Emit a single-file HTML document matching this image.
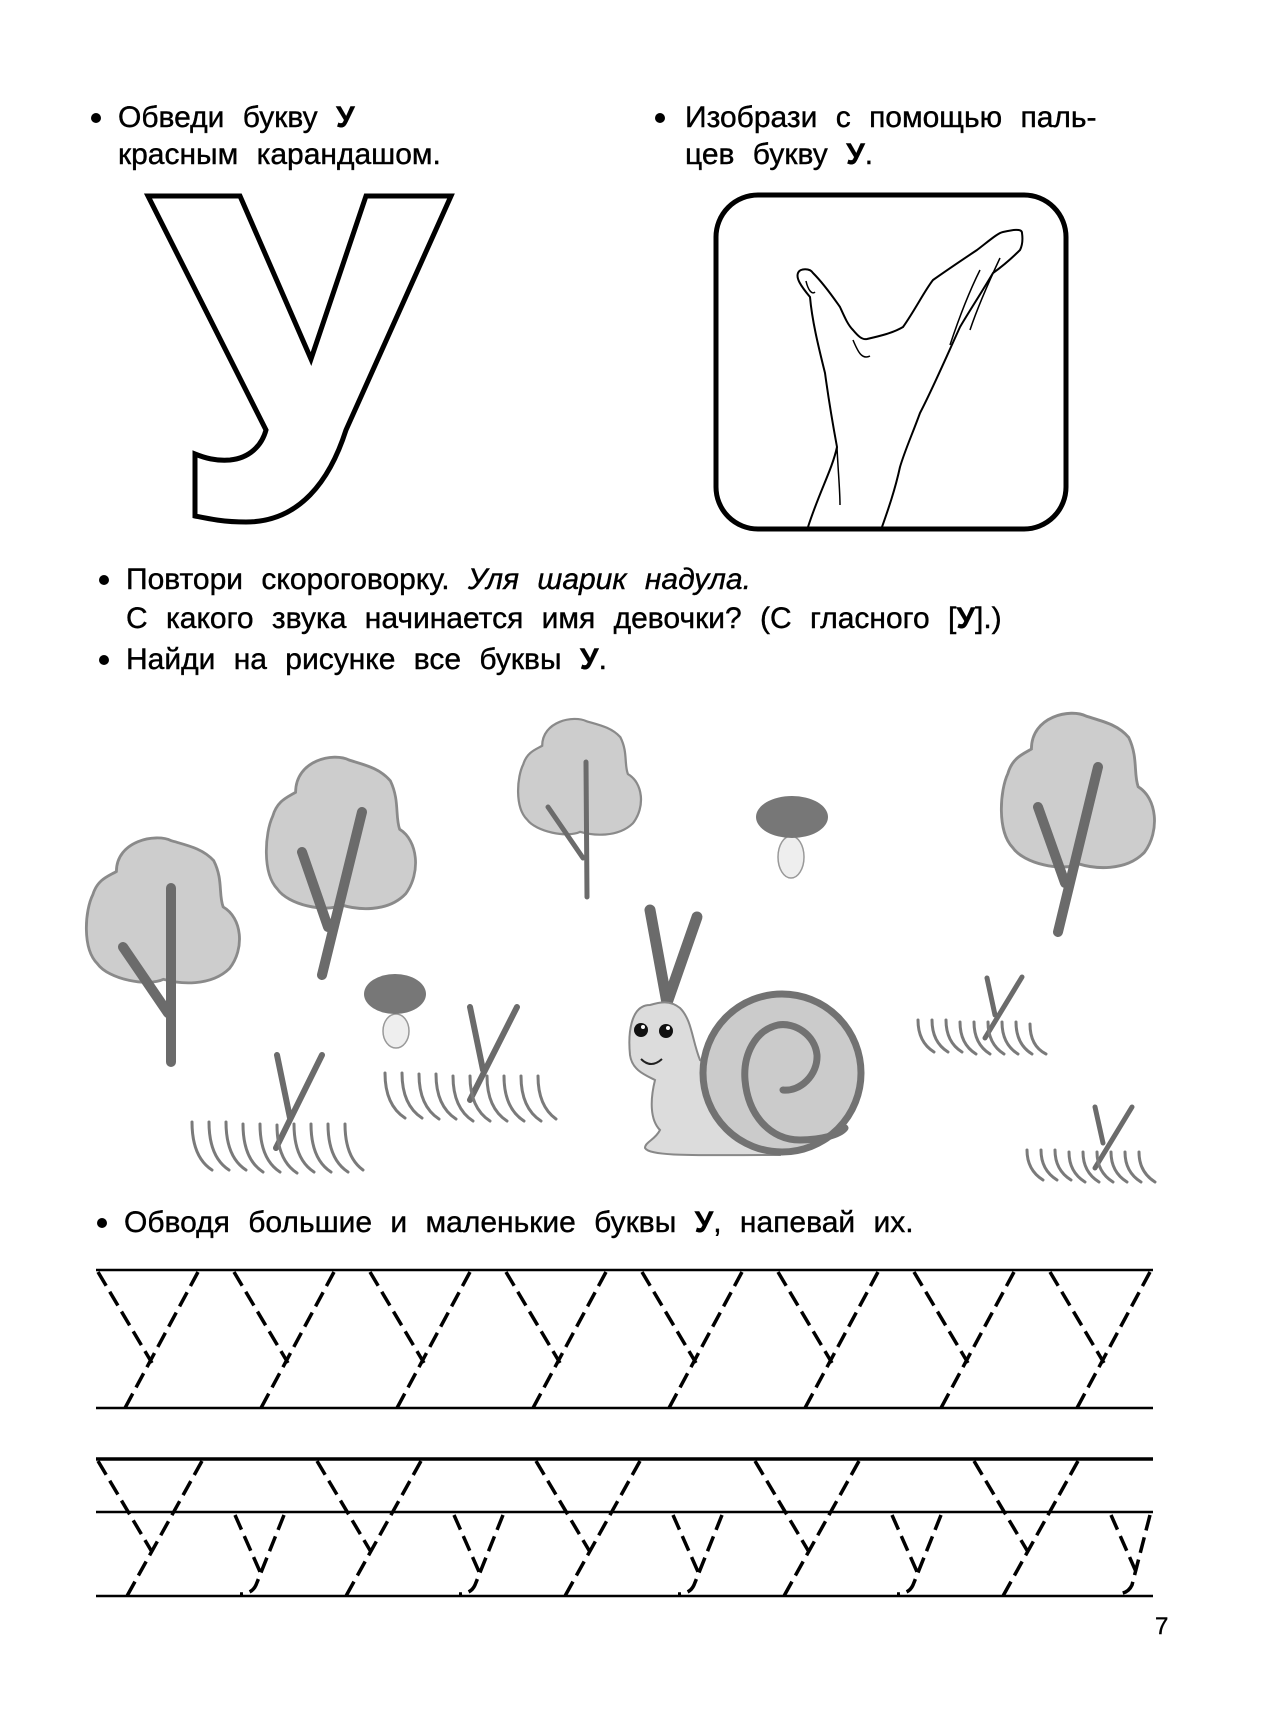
<!DOCTYPE html>
<html><head><meta charset="utf-8"><style>
html,body{margin:0;padding:0;background:#fff;}
body{width:1270px;height:1713px;position:relative;overflow:hidden;font-family:"Liberation Sans",Arial,sans-serif;color:#000;}
.t{position:absolute;font-size:30px;line-height:38px;word-spacing:10px;white-space:nowrap;-webkit-text-stroke:0.4px #000;}
.t b{font-weight:bold;}
.d{position:absolute;width:10px;height:10px;border-radius:50%;background:#000;}
</style></head><body>
<div class="d" style="left:91px;top:113px"></div>
<div class="t" style="left:118px;top:99px">Обведи букву <b>У</b></div>
<div class="t" style="left:118px;top:136px">красным карандашом.</div>
<div class="d" style="left:655px;top:113px"></div>
<div class="t" style="left:685px;top:99px">Изобрази с помощью паль-</div>
<div class="t" style="left:685px;top:136px">цев букву <b>У</b>.</div>

<div class="d" style="left:99px;top:575px"></div>
<div class="t" style="left:126px;top:561px">Повтори скороговорку. <i>Уля шарик надула.</i></div>
<div class="t" style="left:126px;top:600px">С какого звука начинается имя девочки? (С гласного [<b>У</b>].)</div>
<div class="d" style="left:99px;top:655px"></div>
<div class="t" style="left:126px;top:641px">Найди на рисунке все буквы <b>У</b>.</div>

<div class="d" style="left:97px;top:1218px"></div>
<div class="t" style="left:124px;top:1204px">Обводя большие и маленькие буквы <b>У</b>, напевай их.</div>
<div class="t" style="left:1155px;top:1608px;font-size:24px">7</div>

<svg width="1270" height="1713" style="position:absolute;left:0;top:0" xmlns="http://www.w3.org/2000/svg">
<path d="M148,196 L240,196 L311,359 L366,196 L451,196 L346,430 C330,480 300,522 246,522 C222,522 205,518 195,516 L195,454 C205,458 215,461 230,460 C250,458 262,445 266,430 Z" fill="#fff" stroke="#000" stroke-width="5"/>
<rect x="716" y="195" width="350" height="334" rx="42" fill="none" stroke="#000" stroke-width="5"/>
<path d="M808,527 C820,490 832,470 837,447 C832,420 828,395 825,373 C818,345 812,320 810,297 C800,285 796,278 798,273 C800,268 810,268 813,273 C825,285 835,300 840,307 C845,318 848,325 853,330 C858,336 862,340 867,339 C880,336 893,333 903,327 C915,310 925,290 933,280 C950,268 965,258 977,250 C990,240 998,233 1003,232 C1012,230 1022,228 1022,233 C1023,240 1022,246 1020,250 C1010,260 1000,268 993,273 C980,295 970,310 960,327 C945,360 932,390 920,413 C912,435 905,450 900,467 C895,490 888,510 882,527" fill="none" stroke="#000" stroke-width="2"/>
<path d="M806,281 C808,290 812,295 815,292 M853,340 C858,352 862,360 870,356 M837,447 C838,470 840,490 840,505 M1000,258 C985,290 975,315 970,330 M980,270 C965,300 955,330 950,345" fill="none" stroke="#000" stroke-width="1.5"/>

<defs>
<path id="blob" d="M20,25 C20,5 45,0 55,5 C65,8 75,10 82,18 C88,30 85,40 88,48 C100,55 102,75 92,88 C80,100 60,98 50,95 C40,100 15,95 8,85 C-2,75 0,50 5,40 C8,30 15,28 20,25 Z"/>
</defs>
<g fill="#cdcdcd" stroke="#8a8a8a" stroke-width="1.8">
<use href="#blob" transform="translate(85,833) scale(1.57,1.54)"/>
<use href="#blob" transform="translate(265,752) scale(1.53,1.61)"/>
<use href="#blob" transform="translate(517,715) scale(1.26,1.23)"/>
<use href="#blob" transform="translate(1000,708) scale(1.57,1.64)"/>
</g>
<g stroke="#6b6b6b" stroke-linecap="round" fill="none">
<path d="M171,888 L171,1062 M123,947 L168,1013" stroke-width="10"/>
<path d="M362,812 L322,975 M302,852 L328,927" stroke-width="10"/>
<path d="M586,762 L587,897 M548,807 L583,858" stroke-width="5"/>
<path d="M1098,767 L1058,932 M1038,807 L1065,883" stroke-width="10"/>
<path d="M650,910 L667,1003 M697,917 L667,1003" stroke-width="11"/>
<path d="M277,1055 L290,1118 M322,1055 L276,1148" stroke-width="6"/>
<path d="M470,1007 L483,1070 M517,1007 L470,1100" stroke-width="6"/>
<path d="M987,978 L995,1015 M1022,977 L985,1038" stroke-width="5"/>
<path d="M1095,1107 L1103,1143 M1132,1107 L1095,1168" stroke-width="5"/>
</g>
<ellipse cx="396" cy="1031" rx="13" ry="17" fill="#eee" stroke="#999" stroke-width="1.5"/>
<ellipse cx="395" cy="994" rx="31" ry="20" fill="#777"/>
<ellipse cx="791" cy="857" rx="13" ry="21" fill="#eee" stroke="#999" stroke-width="1.5"/>
<ellipse cx="792" cy="817" rx="36" ry="21" fill="#777"/>
<g stroke="#7a7a7a" stroke-width="3" fill="none" stroke-linecap="round">
<path d="M192,1122 q0,35 20,48 M209,1122 q0,35 20,48 M226,1122 q0,35 20,48 M243,1124 q0,35 20,48 M260,1124 q0,35 20,48 M277,1125 q0,35 20,48 M294,1124 q0,35 20,48 M311,1124 q0,35 20,48 M328,1124 q0,35 20,48 M345,1124 q0,33 18,46"/>
<path d="M385,1073 q0,32 20,45 M402,1073 q0,32 20,45 M419,1074 q0,32 20,45 M436,1074 q0,32 20,45 M453,1076 q0,32 20,45 M470,1076 q0,32 20,45 M487,1076 q0,32 20,45 M504,1076 q0,32 20,45 M521,1076 q0,32 20,45 M538,1076 q0,30 18,43"/>
<path d="M918,1020 q0,22 16,32 M932,1020 q0,22 16,32 M946,1020 q0,22 16,32 M960,1022 q0,22 16,32 M974,1022 q0,22 16,32 M988,1022 q0,22 16,32 M1002,1022 q0,22 16,32 M1016,1022 q0,22 16,32 M1030,1024 q0,22 16,30"/>
<path d="M1027,1150 q0,20 16,30 M1041,1150 q0,20 16,30 M1055,1150 q0,20 16,30 M1069,1152 q0,20 16,30 M1083,1152 q0,20 16,30 M1097,1152 q0,20 16,30 M1111,1152 q0,20 16,30 M1125,1152 q0,20 16,30 M1139,1152 q0,20 16,30"/>
</g>
<path d="M650,1005 C630,1005 628,1035 630,1055 C632,1070 645,1075 655,1080 C650,1100 650,1120 660,1130 C655,1140 645,1142 645,1148 C650,1157 700,1155 780,1155 L790,1110 L700,1060 C692,1040 692,1020 680,1008 C670,1000 660,1002 650,1005 Z" fill="#dcdcdc" stroke="#888" stroke-width="2"/>
<circle cx="782" cy="1073" r="79" fill="#cbcbcb" stroke="#727272" stroke-width="7"/>
<path d="M783,1090 C800,1092 818,1075 817,1055 C815,1035 795,1022 778,1025 C755,1030 743,1055 745,1080 C748,1115 770,1140 800,1140 C820,1140 840,1135 845,1128" fill="none" stroke="#727272" stroke-width="7" stroke-linecap="round"/>
<circle cx="641" cy="1030" r="7" fill="#111"/><circle cx="666" cy="1031" r="7" fill="#111"/>
<circle cx="643" cy="1027" r="2" fill="#fff"/><circle cx="668" cy="1028" r="2" fill="#fff"/>
<path d="M641,1059 q10,10 21,0" fill="none" stroke="#222" stroke-width="2"/>

<g stroke="#000" stroke-width="2.5">
<line x1="96" y1="1270" x2="1153" y2="1270"/>
<line x1="96" y1="1408" x2="1153" y2="1408"/>
<line x1="96" y1="1459" x2="1153" y2="1459" stroke-width="3.5"/>
<line x1="96" y1="1512" x2="1153" y2="1512"/>
<line x1="96" y1="1596" x2="1153" y2="1596"/>
</g>
<g stroke="#000" stroke-width="3.5" fill="none" stroke-dasharray="16,7">
<path d="M98,1272 L152,1363 M198,1272 L125,1408"/>
<path d="M234,1272 L288,1363 M334,1272 L261,1408"/>
<path d="M370,1272 L424,1363 M470,1272 L397,1408"/>
<path d="M506,1272 L560,1363 M606,1272 L533,1408"/>
<path d="M642,1272 L696,1363 M742,1272 L669,1408"/>
<path d="M778,1272 L832,1363 M878,1272 L805,1408"/>
<path d="M914,1272 L968,1363 M1014,1272 L941,1408"/>
<path d="M1050,1272 L1104,1363 M1150,1272 L1077,1408"/>

<path d="M98,1461 L152,1552 M202,1461 L127,1596 M235,1515 L261,1574 M284,1515 L256,1585 Q252,1594 240,1594"/>
<path d="M317,1461 L371,1552 M421,1461 L346,1596 M454,1515 L480,1574 M503,1515 L475,1585 Q471,1594 459,1594"/>
<path d="M536,1461 L590,1552 M640,1461 L565,1596 M673,1515 L699,1574 M722,1515 L694,1585 Q690,1594 678,1594"/>
<path d="M755,1461 L809,1552 M859,1461 L784,1596 M892,1515 L918,1574 M941,1515 L913,1585 Q909,1594 897,1594"/>
<path d="M974,1461 L1028,1552 M1078,1461 L1003,1596 M1111,1515 L1137,1574 M1150,1515 L1132,1585 Q1128,1594 1116,1594"/>
</g>
</svg>
</body></html>
